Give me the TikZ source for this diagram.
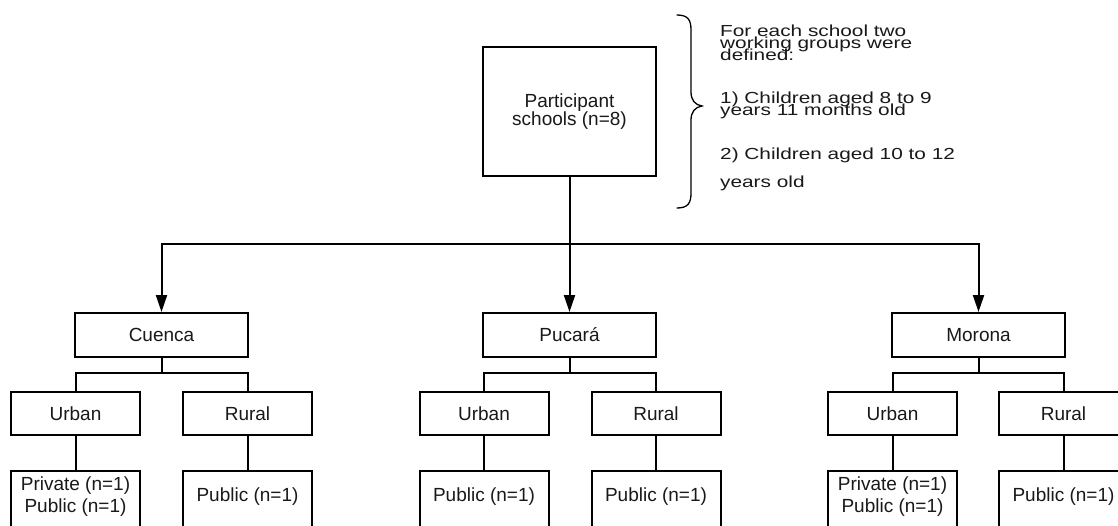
\documentclass[tikz,border=0pt]{standalone}
\usepackage{fontspec}
\setmainfont{Liberation Sans}
\newfontfamily\sidefont[FakeStretch=1.3]{Liberation Sans}
\usetikzlibrary{arrows.meta}
\begin{document}
\begin{tikzpicture}[x=1pt,y=-1pt,
  box/.style={draw, line width=2pt, inner sep=0pt, align=center, text=black!90,
    font=\fontsize{19}{17}\selectfont},
  topbox/.style={box, minimum width=173pt, minimum height=129pt},
  citybox/.style={box, minimum width=173pt, minimum height=44pt},
  areabox/.style={box, minimum width=129pt, minimum height=43pt},
  leafbox/.style={draw, line width=2pt, inner sep=0pt, minimum width=129pt, minimum height=62pt},
  leaftext/.style={inner sep=0pt, align=center, text=black!90, font=\fontsize{19}{22}\selectfont},
  conn/.style={line width=2pt},
  arr/.style={line width=2pt, -{Triangle[length=17pt,width=11pt]}},
  side/.style={anchor=base west, inner sep=0pt, text=black!90, font=\sidefont\fontsize{16}{12}\selectfont},
  bracestyle/.style={line width=1.3pt, line cap=round}
]
\useasboundingbox (0,0) rectangle (1118,525);
\fill[white] (0,0) rectangle (1118,525);

% top
\node[topbox] (top) at (569.5,111.5) {Participant\\schools (n=8)};

% brace
\coordinate (br1) at (677,15);
\coordinate (br2) at (702,106);
\coordinate (br3) at (677,208);
\draw[bracestyle] (br1) .. controls (688,15) and (691,20) .. (691,30) -- (691,92)
   .. controls (691,100) and (695,105) .. (br2)
   .. controls (695,107) and (691,112) .. (691,120) -- (691,193)
   .. controls (691,203) and (688,208) .. (br3);

% side text
\node[side] (s1) at (720,36) {For each school two};
\node[side] (s2) at (720,48) {working groups were};
\node[side] (s3) at (720,60) {defined:};
\node[side] (s4) at (720,103) {1) Children aged 8 to 9};
\node[side] (s5) at (720,115) {years 11 months old};
\node[side] (s6) at (720,159) {2) Children aged 10 to 12};
\node[side] (s7) at (720,187) {years old};

% cities
\node[citybox] (cuenca) at (161.5,335) {Cuenca};
\node[citybox] (pucara) at (569.5,335) {Pucará};
\node[citybox] (morona) at (978.5,335) {Morona};

\coordinate (hj) at (569.5,244);
\draw[conn] (top.south) -- (hj);
\draw[arr] (hj) -| (cuenca.north);
\draw[arr] (hj) -- (pucara.north);
\draw[arr] (hj) -| (morona.north);

% areas
\node[areabox] (cu) at (75.5,413.5) {Urban};
\node[areabox] (cr) at (247.5,413.5) {Rural};
\node[areabox] (pu) at (484,413.5) {Urban};
\node[areabox] (pr) at (656,413.5) {Rural};
\node[areabox] (mu) at (892.5,413.5) {Urban};
\node[areabox] (mr) at (1063.5,413.5) {Rural};

\coordinate (cj) at (161.5,373);
\coordinate (pj) at (569.5,373);
\coordinate (mj) at (978.5,373);
\draw[conn] (cuenca.south) -- (cj);
\draw[conn] (cj) -| (cu.north);
\draw[conn] (cj) -| (cr.north);
\draw[conn] (pucara.south) -- (pj);
\draw[conn] (pj) -| (pu.north);
\draw[conn] (pj) -| (pr.north);
\draw[conn] (morona.south) -- (mj);
\draw[conn] (mj) -| (mu.north);
\draw[conn] (mj) -| (mr.north);

% leaves
\node[leafbox] (cub) at (75.5,502) {};
\node[leafbox] (crb) at (247.5,502) {};
\node[leafbox] (pub) at (484,502) {};
\node[leafbox] (prb) at (656,502) {};
\node[leafbox] (mub) at (892.5,502) {};
\node[leafbox] (mrb) at (1063.5,502) {};

\node[leaftext] (cubt) at (75.5,497) {Private (n=1)\\Public (n=1)};
\node[leaftext] (crbt) at (247.5,497) {Public (n=1)};
\node[leaftext] (pubt) at (484,497) {Public (n=1)};
\node[leaftext] (prbt) at (656,497) {Public (n=1)};
\node[leaftext] (mubt) at (892.5,497) {Private (n=1)\\Public (n=1)};
\node[leaftext] (mrbt) at (1063.5,497) {Public (n=1)};

\draw[conn] (cu.south) -- (cub.north);
\draw[conn] (cr.south) -- (crb.north);
\draw[conn] (pu.south) -- (pub.north);
\draw[conn] (pr.south) -- (prb.north);
\draw[conn] (mu.south) -- (mub.north);
\draw[conn] (mr.south) -- (mrb.north);
\end{tikzpicture}
\end{document}
